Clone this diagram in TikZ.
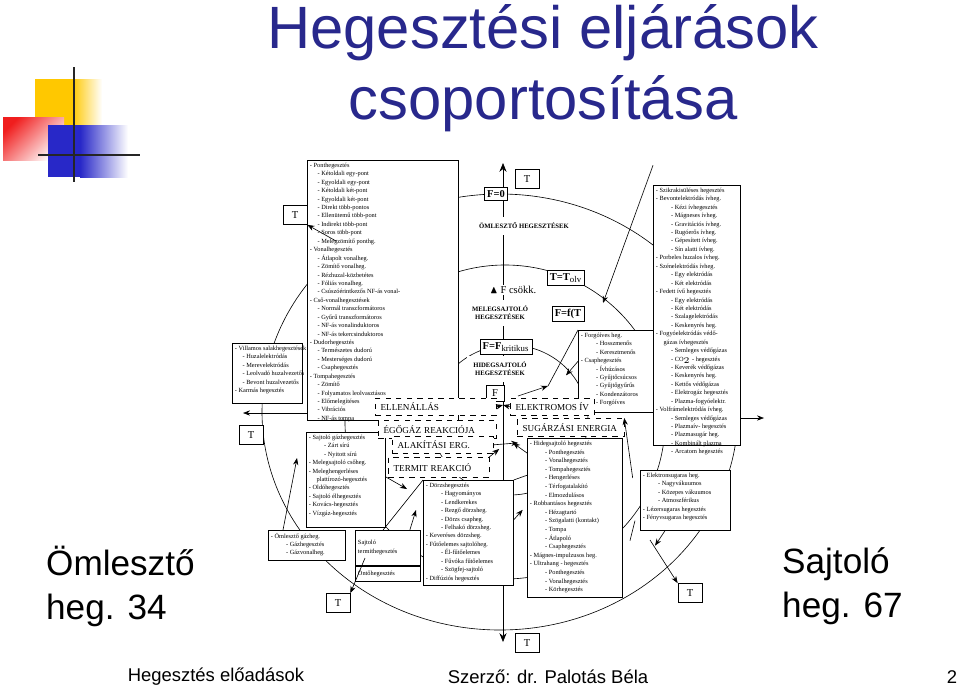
\documentclass[tikz,border=0pt]{standalone}
\usepackage{amssymb}
\usepackage{fontspec}
\setmainfont{Liberation Serif}
\newfontfamily\slidefont{Liberation Sans}
\usetikzlibrary{arrows.meta,positioning}
\definecolor{titleblue}{RGB}{40,40,140}
\definecolor{logoyellow}{RGB}{255,200,0}
\definecolor{logored}{RGB}{240,30,30}
\definecolor{logoblue}{RGB}{40,40,200}
\newcommand{\li}{\hspace*{1.2em}}
\newcommand{\lii}{\hspace*{2.4em}}
\tikzset{
  listbox/.style={draw,fill=white,inner sep=0pt,line width=0.4pt},
  listtxt/.style={anchor=north west,align=left,inner sep=1.5pt,
    font=\fontsize{3.6}{4.8}\selectfont},
  tbox/.style={draw,fill=white,inner sep=0pt,font=\fontsize{6}{6}\selectfont,
    minimum width=0.48cm,minimum height=0.38cm},
  fbox/.style={draw,fill=white,inner sep=1.5pt,font=\fontsize{6}{6}\selectfont\bfseries},
  dashbox/.style={draw,dashed,fill=white,inner ysep=0pt,inner xsep=3pt,anchor=north west,
    align=left,font=\fontsize{5.2}{5.2}\selectfont,text depth=0pt},
  kind/.style={align=center,font=\fontsize{3.8}{4.4}\selectfont\bfseries},
  arr/.style={-{Stealth[length=4pt,width=3pt]},line width=0.35pt},
  thin/.style={line width=0.35pt}
}
\begin{document}
\begin{tikzpicture}[x=0.02cm,y=-0.02cm]
\useasboundingbox (0,0) rectangle (960,690);
% logo
\fill[logoyellow] (35,79) rectangle (72,125);
\shade[left color=logoyellow,right color=white] (72,79) rectangle (102,125);
\shade[top color=logored,bottom color=white,shading angle=45] (3,117) rectangle (64,160);
\fill[logoblue] (48,125) rectangle (80,177);
\shade[left color=logoblue,right color=white] (80,125) rectangle (128,177);
\draw[line width=1.6pt,black!85] (74,67) -- (74,182);
\draw[line width=1.6pt,black!85] (38,155) -- (140,155);
% titles
\node[font=\slidefont\fontsize{34}{34}\selectfont,text=titleblue] (title1) at (543,33) {Hegesztési eljárások};
\node[font=\slidefont\fontsize{34}{34}\selectfont,text=titleblue] (title2) at (543,104) {csoportosítása};
\node[font=\slidefont\fontsize{20}{25}\selectfont,align=left,anchor=west] (leftlab) at (40,586) {Ömlesztő\\heg. 34};
\node[font=\slidefont\fontsize{20}{25}\selectfont,align=left,anchor=west] (rightlab) at (776,586) {Sajtoló\\heg. 67};
\node[font=\slidefont\fontsize{10.5}{10.5}\selectfont] (foot1) at (216,677) {Hegesztés előadások};
\node[font=\slidefont\fontsize{10.5}{10.5}\selectfont] (foot2) at (548,677) {Szerző: dr. Palotás Béla};
\node[font=\slidefont\fontsize{10.5}{10.5}\selectfont] (foot3) at (952,677) {2};

% circles
\draw[thin] (500,412) ellipse [x radius=238, y radius=218];
\draw[thin] (505,422) ellipse [x radius=160, y radius=157];
\draw[thin] (510,420) ellipse [x radius=78, y radius=75];
% axis
\draw[thin,{Stealth[length=5pt,width=4pt]}-{Stealth[length=5pt,width=4pt]}] (503,163) -- (503,642);

% labels on the axis
\node[fbox] (f0) at (496,194) {F=0};
\node[tbox] (tt) at (527,179) {T};
\node[kind,fill=white] (oml) at (524,226) {ÖMLESZTŐ HEGESZTÉSEK};
\node[fbox] (tolv) at (566,278) {T=T$_{\scriptscriptstyle\mathrm{olv}}$};
\node[font=\fontsize{6}{6}\selectfont,fill=white,inner sep=1pt] (fcs) at (513,290) {$\blacktriangle$ F csökk.};
\node[kind,fill=white] (meleg) at (500,313) {MELEGSAJTOLÓ\\HEGESZTÉSEK};
\node[fbox] (fft) at (568,314) {F=f(T};
\node[fbox] (fkr) at (506,347) {F=F$_{\scriptscriptstyle\mathrm{kritikus}}$};
\node[kind,fill=white] (hideg) at (500,369) {HIDEGSAJTOLÓ\\HEGESZTÉSEK};
\node[tbox,minimum width=0.36cm,minimum height=0.32cm] (fbx) at (495,393) {F};

% big list boxes
\node[listbox,minimum width=3.02cm,minimum height=5.2cm,anchor=north west] (pont) at (307,160) {};
\node[listtxt] (ponttxt) at (pont.north west) {- Ponthegesztés\\
\li- Kétoldali egy-pont\\ \li- Egyoldali egy-pont\\ \li- Kétoldali két-pont\\
\li- Egyoldali két-pont\\ \li- Direkt több-pontos\\ \li- Ellenütemű több-pont\\
\li- Indirekt több-pont\\ \li- Soros több-pont\\ \li- Melegzömítő ponthg.\\
- Vonalhegesztés\\ \li- Átlapolt vonalheg.\\ \li- Zömítő vonalheg.\\
\li- Rézhuzal-közbetétes\\ \li- Fóliás vonalheg.\\ \li- Csúszóérintkezős NF-ás vonal-\\
- Cső-vonalhegesztések\\ \li- Normál transzformátoros\\ \li- Gyűrű transzformátoros\\
\li- NF-ás vonalinduktoros\\ \li- NF-ás tekercsinduktoros\\
- Dudorhegesztés\\ \li- Természetes dudorú\\ \li- Mesterséges dudorú\\ \li- Csaphegesztés\\
- Tompahegesztés\\ \li- Zömítő\\ \li- Folyamatos leolvasztásos\\ \li- Előmelegítéses\\
\li- Vibrációs\\ \li- NF-ás tompa};

\node[listbox,minimum width=1.4cm,minimum height=1.2cm,anchor=north west] (salak) at (232,343) {};
\node[listtxt] (salaktxt) at (salak.north west) {- Villamos salakhegesztések\\
\li- Huzalelektródás\\ \li- Merevelektródás\\ \li- Leolvadó huzalvezetős\\
\li- Bevont huzalvezetős\\ - Karmás hegesztés};

\node[listbox,minimum width=1.58cm,minimum height=1.9cm,anchor=north west] (sgaz) at (306,432) {};
\node[listtxt] (sgaztxt) at (sgaz.north west) {- Sajtoló gázhegesztés\\
\lii- Zárt sírú\\ \lii- Nyitott sírú\\ - Melegsajtoló csőheg.\\ - Meleghengerléses\\
\li plattírozó-hegesztés\\ - Oldóhegesztés\\ - Sajtoló élhegesztés\\ - Kovács-hegesztés\\
- Vízgáz-hegesztés};

\node[listbox,minimum width=1.54cm,minimum height=0.6cm,anchor=north west] (ogaz) at (268,530) {};
\node[listtxt] (ogaztxt) at (ogaz.north west) {- Ömlesztő gázheg.\\ \lii- Gázhegesztés\\ \lii- Gázvonalheg.};
\node[listbox,minimum width=1.3cm,minimum height=0.7cm,anchor=north west] (termit) at (355,530) {};
\node[listtxt,anchor=west] (termittxt) at ([yshift=0.01cm]termit.west) {Sajtoló\\termithegesztés};
\node[listbox,minimum width=1.3cm,minimum height=0.3cm,anchor=north west] (onto) at (355,566) {};
\node[listtxt,anchor=west] (ontotxt) at (onto.west) {Öntőhegesztés};

\node[listbox,minimum width=1.8cm,minimum height=2.1cm,anchor=north west] (dorzs) at (423,480) {};
\node[listtxt] (dorzstxt) at (dorzs.north west) {- Dörzshegesztés\\
\lii- Hagyományos\\ \lii- Lendkerekes\\ \lii- Rezgő dörzsheg.\\ \lii- Dörzs csapheg.\\
\lii- Felhakó dörzsheg.\\ - Keveréses dörzsheg.\\ - Fűtőelemes sajtolóheg.\\
\lii- Él-fűtőelemes\\ \lii- Fűvóka fűtőelemes\\ \lii- Szögfej-sajtoló\\ - Diffúziós hegesztés};

\node[listbox,minimum width=1.9cm,minimum height=3.18cm,anchor=north west] (hid) at (527,438) {};
\node[listtxt,font=\fontsize{3.6}{4.9}\selectfont] (hidtxt) at (hid.north west) {- Hidegsajtoló hegesztés\\
\lii- Ponthegesztés\\ \lii- Vonalhegesztés\\ \lii- Tompahegesztés\\ \lii- Hengerléses\\
\lii- Térfogatalakító\\ \lii- Elmozdulásos\\ - Robbantásos hegesztés\\ \lii- Hézagtartó\\
\lii- Szögalatti (kontakt)\\ \lii- Tompa\\ \lii- Átlapoló\\ \lii- Csaphegesztés\\
- Mágnes-impulzusos heg.\\ - Ultrahang - hegesztés\\ \lii- Ponthegesztés\\
\lii- Vonalhegesztés\\ \lii- Körhegesztés};

\node[listbox,minimum width=1.54cm,minimum height=1.64cm,anchor=north west] (forgo) at (578,330) {};
\node[listtxt] (forgotxt) at (forgo.north west) {- Forgóíves heg.\\
\lii- Hosszmenős\\ \lii- Keresztmenős\\ - Csaphegesztés\\ \lii- Ívhúzásos\\
\lii- Gyűjtőcsúcsos\\ \lii- Gyűjtőgyűrűs\\ \lii- Kondenzátoros\\ \lii- Forgóíves};

\node[listbox,minimum width=1.74cm,minimum height=5.2cm,anchor=north west] (iv) at (653,185) {};
\node[listtxt] (ivtxt) at (iv.north west) {- Szikrakisüléses hegesztés\\
- Bevontelektródás ívheg.\\ \lii- Kézi ívhegesztés\\ \lii- Mágneses ívheg.\\
\lii- Gravitációs ívheg.\\ \lii- Rugóerős ívheg.\\ \lii- Gépesített ívheg.\\
\lii- Sín alatti ívheg.\\ - Porbeles huzalos ívheg.\\ - Szénelektródás ívheg.\\
\lii- Egy elektródás\\ \lii- Két elektródás\\ - Fedett ívű hegesztés\\
\lii- Egy elektródás\\ \lii- Két elektródás\\ \lii- Szalagelektródás\\
\lii- Keskenyrés heg.\\ - Fogyóelektródás védő-\\ \li gázas ívhegesztés\\
\lii- Semleges védőgázas\\ \lii- CO$_2$ - hegesztés\\ \lii- Keverék védőgázas\\
\lii- Keskenyrés heg.\\ \lii- Kettős védőgázas\\ \lii- Elektrogáz hegesztés\\
\lii- Plazma-fogyóelektr.\\ - Volfrámelektródás ívheg.\\ \lii- Semleges védőgázas\\
\lii- Plazmaív- hegesztés\\ \lii- Plazmasugár heg.\\ \lii- Kombinált plazma\\
\lii- Arcatom hegesztés};

\node[listbox,minimum width=1.8cm,minimum height=1.2cm,anchor=north west] (elsug) at (640,470) {};
\node[listtxt] (elsugtxt) at (elsug.north west) {- Elektronsugaras heg.\\
\lii- Nagyvákuumos\\ \lii- Közepes vákuumos\\ \lii- Atmoszférikus\\
- Lézersugaras hegesztés\\ - Fényvsugaras hegesztés};

% dashed process boxes
\node[dashbox,text width=2.2cm,minimum height=0.34cm] (ell) at (375,398) {ELLENÁLLÁS};
\node[dashbox,text width=2.14cm,minimum height=0.36cm] (ego) at (378,420) {ÉGŐGÁZ REAKCIÓJA};
\node[dashbox,text width=1.8cm,minimum height=0.34cm] (alak) at (392,436) {ALAKÍTÁSI ERG.};
\node[dashbox,text width=1.8cm,minimum height=0.4cm] (term) at (388,457) {TERMIT REAKCIÓ};
\node[dashbox,minimum width=1.5cm,minimum height=0.34cm] (elek) at (510,398) {ELEKTROMOS ÍV};
\node[dashbox,text width=1.92cm,minimum height=0.36cm] (sug) at (517,418) {SUGÁRZÁSI ENERGIA};

% T boxes
\node[tbox] (t1) at (295,215) {T};
\node[tbox] (t2) at (251,435) {T};
\node[tbox] (t3) at (338,603) {T};
\node[tbox] (t4) at (690,593) {T};
\node[tbox] (t5) at (527,643) {T};

% connectors
\coordinate (lout) at (243,413);
\coordinate (rout) at (764,418);
\coordinate (fin) at (503,405);
\draw[arr] (pont.west |- lout) -- (lout);
\draw[arr] (iv.east |- rout) -- (rout);
\draw[arr] (336,241) -- (t1.south east);
\draw[arr] (ogaz.north west) ++(15,0) -- (297,458);
\draw[arr] (sgaz.east) ++(0,-3) -- (407,489);
\draw[arr] (termit.north) ++(22,0) -- (416,510);
\draw[thin] (termit.north west) ++(28,0) -- (dorzs.north west);
\draw[arr] (onto.north west) ++(10,-8) -- (t3.north east);
\draw[arr] (alak.east) -- ++(25,-2);
\draw[arr] (term.north east) -- ++(10,-8);
\draw[arr] (dorzs.east) ++(0,-13) -- ++(9,-10);
\draw[arr] (hid.north west) ++(0,15) -- ++(-14,-10);
\draw[thin] (dorzs.north east) -- ++(14,-5);
\draw[arr] (hid.north east) ++(10,40) -- (sug.north east);
\draw[arr] (elsug.south west) ++(25,0) -- ++(-10,15);
\draw[thin] (elsug.south west) ++(-5,-10) -- ++(-5,20);
\draw[arr] (650,540) -- (t4.north west);
\draw[arr] (iv.west) ++(0,-150) -- (603,303);
\draw[arr] (forgo.west) ++(0,-10) -- ++(-12,14);
\draw[arr] (518,396) -- (548,386);
\draw[thin] (548,386) -- (forgo.north west);
\draw[arr] (ell.east) -- (fin);
\draw[arr] (elek.west) -- (fin);
\end{tikzpicture}
\end{document}
